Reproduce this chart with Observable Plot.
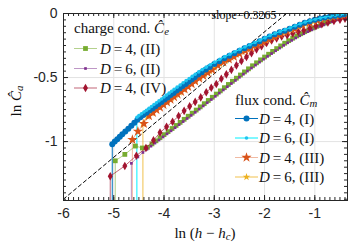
<!DOCTYPE html>
<html><head><meta charset="utf-8">
<script src="https://cdn.jsdelivr.net/npm/d3@7"></script>
<script src="https://cdn.jsdelivr.net/npm/@observablehq/plot@0.6"></script>
<style>
body{margin:0;background:#fff;}
#chart{position:relative;width:354px;height:247px;}
</style></head><body><div id="chart"></div>
<script>
// ---- axis / tick values ----
const xTicks = [-6, -5, -4, -3, -2, -1];
const yTicks = [-1, -0.5, 0];
const xDomain = [-6, -0.35];
const yDomain = [-1.46, 0];
const fitSlope = 0.3265;
const fitIntercept = 0.51;
const fitX = [-6, -1.5];

// ---- charge cond. ----
const xD4II = [-4.97,-4.78,-4.57,-4.43,-4.33,-4.24,-4.16,-4.08,-4.00,-3.92,-3.84,-3.76,-3.68,-3.60,-3.52,-3.44,-3.36,-3.28,-3.20,-3.12,-3.04,-2.96,-2.88,-2.80,-2.72,-2.64,-2.56,-2.48,-2.40,-2.32,-2.24,-2.16,-2.08,-2.00,-1.92,-1.84,-1.76,-1.68,-1.60,-1.52,-1.44,-1.36,-1.28,-1.20,-1.12,-1.04,-0.96,-0.88,-0.80,-0.72,-0.64,-0.56,-0.48,-0.40];
const yD4II = [-1.150,-1.100,-1.035,-1.050,-1.045,-1.018,-0.994,-0.970,-0.946,-0.922,-0.898,-0.874,-0.850,-0.826,-0.802,-0.778,-0.754,-0.729,-0.704,-0.679,-0.654,-0.629,-0.604,-0.579,-0.554,-0.529,-0.505,-0.480,-0.456,-0.432,-0.408,-0.385,-0.362,-0.340,-0.318,-0.296,-0.274,-0.253,-0.232,-0.212,-0.193,-0.175,-0.158,-0.142,-0.127,-0.113,-0.100,-0.087,-0.075,-0.063,-0.051,-0.039,-0.026,-0.012];

const xD6II = [-4.65,-4.52,-4.42,-4.34,-4.26,-4.18,-4.10,-4.02,-3.94,-3.86,-3.78,-3.70,-3.62,-3.54,-3.46,-3.38,-3.30,-3.22,-3.14,-3.06,-2.98,-2.90,-2.82,-2.74,-2.66,-2.58,-2.50,-2.42,-2.34,-2.26,-2.18,-2.10,-2.02,-1.94,-1.86,-1.78,-1.70,-1.62,-1.54,-1.46,-1.38,-1.30,-1.22,-1.14,-1.06,-0.98,-0.90,-0.82,-0.74,-0.66,-0.58,-0.50,-0.42];
const yD6II = [-1.170,-1.120,-1.085,-1.060,-1.036,-1.012,-0.988,-0.964,-0.940,-0.916,-0.892,-0.868,-0.844,-0.820,-0.796,-0.772,-0.747,-0.722,-0.697,-0.672,-0.647,-0.622,-0.597,-0.572,-0.547,-0.523,-0.498,-0.474,-0.450,-0.426,-0.403,-0.380,-0.357,-0.335,-0.313,-0.291,-0.270,-0.249,-0.229,-0.210,-0.191,-0.174,-0.158,-0.142,-0.128,-0.114,-0.101,-0.089,-0.077,-0.065,-0.053,-0.041,-0.028];

const xD4IV = [-5.07,-4.78,-4.55,-4.36,-4.21,-4.08,-3.95,-3.83,-3.71,-3.60,-3.49,-3.38,-3.27,-3.16,-3.06,-2.96,-2.86,-2.76,-2.66,-2.56,-2.46,-2.36,-2.26,-2.16,-2.06,-1.96,-1.86,-1.76,-1.66,-1.55,-1.44,-1.33,-1.22,-1.10,-0.98,-0.86,-0.74,-0.62,-0.50,-0.40];
const yD4IV = [-1.27,-1.19,-1.11,-1.05,-0.99,-0.93,-0.885,-0.845,-0.80,-0.76,-0.725,-0.69,-0.655,-0.615,-0.58,-0.55,-0.51,-0.475,-0.44,-0.405,-0.37,-0.34,-0.31,-0.28,-0.255,-0.23,-0.21,-0.195,-0.18,-0.17,-0.155,-0.143,-0.13,-0.115,-0.098,-0.083,-0.07,-0.058,-0.048,-0.04];

// ---- flux cond. ----
const xD4I = [-5.03,-4.98,-4.93,-4.88,-4.83,-4.77,-4.71,-4.65,-4.59,-4.53,-4.47,-4.41,-4.35,-4.29,-4.23,-4.17,-4.11,-4.05,-3.99,-3.93,-3.87,-3.81,-3.75,-3.69,-3.63,-3.57,-3.51,-3.45,-3.39,-3.32,-3.25,-3.17,-3.09,-3.00,-2.90,-2.80,-2.70,-2.60,-2.50,-2.40,-2.30,-2.20,-2.10,-2.00,-1.90,-1.80,-1.70,-1.60,-1.50,-1.40,-1.30,-1.20,-1.10,-1.00,-0.90,-0.80,-0.70,-0.60,-0.50,-0.42];
const yD4I = [-1.020,-1.000,-0.981,-0.962,-0.943,-0.921,-0.899,-0.876,-0.853,-0.830,-0.810,-0.792,-0.775,-0.758,-0.741,-0.724,-0.707,-0.690,-0.672,-0.655,-0.637,-0.620,-0.602,-0.585,-0.567,-0.550,-0.532,-0.515,-0.497,-0.477,-0.458,-0.438,-0.418,-0.395,-0.372,-0.350,-0.330,-0.311,-0.290,-0.272,-0.254,-0.236,-0.217,-0.198,-0.180,-0.162,-0.147,-0.134,-0.119,-0.104,-0.088,-0.072,-0.060,-0.049,-0.040,-0.031,-0.024,-0.017,-0.011,-0.006];

const xD6I = [-4.54,-4.50,-4.45,-4.40,-4.35,-4.30,-4.25,-4.20,-4.15,-4.10,-4.05,-4.00,-3.95,-3.90,-3.85,-3.80,-3.74,-3.68,-3.62,-3.56,-3.50,-3.44,-3.38,-3.31,-3.24,-3.16,-3.08,-2.99,-2.89,-2.79,-2.69,-2.59,-2.49,-2.39,-2.29,-2.19,-2.09,-1.99,-1.89,-1.79,-1.69,-1.59,-1.49,-1.39,-1.29,-1.19,-1.09,-0.99,-0.89,-0.79,-0.69,-0.59,-0.49,-0.40];
const yD6I = [-0.810,-0.797,-0.783,-0.769,-0.755,-0.741,-0.726,-0.711,-0.697,-0.682,-0.667,-0.652,-0.637,-0.622,-0.607,-0.592,-0.575,-0.558,-0.541,-0.524,-0.507,-0.491,-0.474,-0.456,-0.438,-0.419,-0.400,-0.380,-0.358,-0.337,-0.318,-0.299,-0.280,-0.262,-0.244,-0.226,-0.208,-0.190,-0.172,-0.155,-0.140,-0.126,-0.111,-0.096,-0.081,-0.067,-0.055,-0.045,-0.036,-0.028,-0.021,-0.014,-0.009,-0.004];

const xD4III = [-4.63,-4.52,-4.40,-4.30,-4.22,-4.15,-4.08,-4.01,-3.94,-3.87,-3.80,-3.73,-3.66,-3.59,-3.52,-3.45,-3.38,-3.30,-3.22,-3.13,-3.04,-2.93,-2.82,-2.71,-2.61,-2.50,-2.38,-2.27,-2.15,-2.03,-1.92,-1.80,-1.69,-1.55,-1.40,-1.25,-1.10,-0.95,-0.80,-0.65,-0.50,-0.40];
const yD4III = [-0.985,-0.920,-0.860,-0.800,-0.775,-0.752,-0.733,-0.713,-0.693,-0.672,-0.652,-0.631,-0.611,-0.591,-0.571,-0.550,-0.529,-0.506,-0.485,-0.463,-0.440,-0.405,-0.380,-0.357,-0.337,-0.314,-0.291,-0.270,-0.247,-0.224,-0.203,-0.181,-0.162,-0.141,-0.120,-0.094,-0.072,-0.054,-0.039,-0.027,-0.017,-0.010];

const xD6III = [-4.42,-4.33,-4.25,-4.17,-4.09,-4.01,-3.93,-3.85,-3.77,-3.69,-3.61,-3.53,-3.45,-3.37,-3.28,-3.19,-3.09,-2.99,-2.88,-2.77,-2.66,-2.55,-2.44,-2.33,-2.21,-2.09,-1.97,-1.85,-1.73,-1.60,-1.46,-1.32,-1.18,-1.03,-0.88,-0.73,-0.58,-0.45];
const yD6III = [-0.860,-0.805,-0.776,-0.750,-0.727,-0.705,-0.683,-0.661,-0.638,-0.616,-0.593,-0.571,-0.548,-0.525,-0.500,-0.475,-0.450,-0.424,-0.396,-0.369,-0.345,-0.322,-0.300,-0.278,-0.256,-0.233,-0.211,-0.190,-0.170,-0.150,-0.128,-0.106,-0.084,-0.064,-0.047,-0.033,-0.021,-0.012];

// ---- series list (data) ----
const series = [
  {key: "D4II",  xs: xD4II,  ys: yD4II,  D: "4", tag: "(II)"},
  {key: "D6II",  xs: xD6II,  ys: yD6II,  D: "6", tag: "(II)"},
  {key: "D4IV",  xs: xD4IV,  ys: yD4IV,  D: "4", tag: "(IV)"},
  {key: "D6III", xs: xD6III, ys: yD6III, D: "6", tag: "(III)"},
  {key: "D4III", xs: xD4III, ys: yD4III, D: "4", tag: "(III)"},
  {key: "D4I",   xs: xD4I,   ys: yD4I,   D: "4", tag: "(I)"},
  {key: "D6I",   xs: xD6I,   ys: yD6I,   D: "6", tag: "(I)"}
];
const chargeKeys = ["D4II", "D6II", "D4IV"];
const fluxKeys = ["D4I", "D6I", "D4III", "D6III"];

// ---- styles ----
const styles = {
  D4II:  {line: "#77AC30", lo: 0.55, fill: "#77AC30", symbol: "square",  r: 2.7},
  D6II:  {line: "#7E2F8E", lo: 0.5,  fill: "#7E2F8E", symbol: "square",  r: 1.5},
  D4IV:  {line: "#A2142F", lo: 0.65, fill: "#A2142F", symbol: "diamond", r: 2.6},
  D4I:   {line: "#0072BD", lo: 1,    fill: "#0072BD", symbol: "circle",  r: 3},
  D6I:   {line: "#00F0FF", lo: 1,    fill: "#20C4F0", symbol: "circle",  r: 1.8},
  D4III: {line: "#D95319", lo: 0.4,  fill: "#D95319", symbol: "star",    r: 3.2},
  D6III: {line: "#EDB120", lo: 0.8,  fill: "#EDB120", symbol: "star",    r: 2.4}
};

const W = 354, H = 247, mL = 63, mR = 7, mT = 13, mB = 47;
const fw = W - mL - mR, fh = H - mT - mB;
const minorX = d3.range(-60, -3).map(i => i / 10);
const minorY = d3.range(0, 30).map(i => -i * 0.05);
const tickColor = "#262626";

const marks = [
  Plot.gridX(xTicks, {stroke: "#e3e3e3", strokeOpacity: 1}),
  Plot.gridY(yTicks, {stroke: "#e3e3e3", strokeOpacity: 1})
];
for (const s of series) {
  const st = styles[s.key];
  const first = [{x: s.xs[0], y: s.ys[0]}];
  marks.push(Plot.ruleX(first, {x: "x", y1: "y", y2: yDomain[0], stroke: st.line, strokeOpacity: st.lo, strokeWidth: 1}));
}
marks.push(Plot.line(fitX.map(x => ({x, y: fitSlope * x + fitIntercept})),
  {x: "x", y: "y", stroke: "#000", strokeWidth: 1, strokeDasharray: "3.5,3", clip: true}));
for (const s of series) {
  const st = styles[s.key];
  const rows = s.xs.map((x, i) => ({x, y: s.ys[i]}));
  marks.push(Plot.line(rows, {x: "x", y: "y", stroke: st.line, strokeOpacity: st.lo, strokeWidth: 1, clip: true}));
  marks.push(Plot.dot(rows, {x: "x", y: "y", symbol: st.symbol, fill: st.fill, r: st.r, clip: true}));
}
marks.push(
  Plot.frame({stroke: tickColor, strokeWidth: 1}),
  Plot.tickX(minorX, {x: d => d, insetTop: fh - 3, stroke: tickColor}),
  Plot.tickX(minorX, {x: d => d, insetBottom: fh - 3, stroke: tickColor}),
  Plot.tickX(xTicks, {x: d => d, insetTop: fh - 5, stroke: tickColor}),
  Plot.tickX(xTicks, {x: d => d, insetBottom: fh - 5, stroke: tickColor}),
  Plot.tickY(minorY, {y: d => d, insetRight: fw - 3, stroke: tickColor}),
  Plot.tickY(minorY, {y: d => d, insetLeft: fw - 3, stroke: tickColor}),
  Plot.tickY(yTicks, {y: d => d, insetRight: fw - 5, stroke: tickColor}),
  Plot.tickY(yTicks, {y: d => d, insetLeft: fw - 5, stroke: tickColor}),
  Plot.axisX(xTicks, {anchor: "bottom", tickSize: 0, tickPadding: 8, tickFormat: d => String(d), fontSize: 14, label: null}),
  Plot.axisY(yTicks, {anchor: "left", tickSize: 0, tickPadding: 6, tickFormat: d => String(d), fontSize: 14, label: null})
);

const plot = Plot.plot({
  width: W, height: H,
  marginLeft: mL, marginRight: mR, marginTop: mT, marginBottom: mB,
  x: {domain: xDomain},
  y: {domain: yDomain},
  style: {fontFamily: "'Liberation Sans', Arial, sans-serif", fontSize: "14px", color: "#262626", background: "#fff"},
  marks
});
document.getElementById("chart").appendChild(plot);

// ---- annotations and legends (drawn into the same SVG) ----
const svg = d3.select(plot);
const serif = "'Liberation Serif', 'Times New Roman', serif";
function rich(g, x, y, parts, size, anchor = "start", rotate = null) {
  const t = g.append("text").attr("x", x).attr("y", y)
    .attr("font-family", serif).attr("font-size", size).attr("fill", "#111")
    .attr("text-anchor", anchor);
  if (rotate !== null) t.attr("transform", `rotate(${rotate},${x},${y})`);
  for (const p of parts) {
    const ts = t.append("tspan").text(p.t);
    if (p.i) ts.attr("font-style", "italic");
    if (p.sub) ts.attr("font-size", size * 0.72).attr("baseline-shift", "-22%");
  }
  return t;
}
const ann = svg.append("g");

// axis labels
rich(ann, 21, 101, [{t: "ln "}, {t: "\u0108", i: true}, {t: "a", i: true, sub: true}], 15, "middle", -90);
rich(ann, (mL + W - mR) / 2, 238, [{t: "ln ("}, {t: "h", i: true}, {t: " \u2212 "}, {t: "h", i: true}, {t: "c", i: true, sub: true}, {t: ")"}], 15, "middle");
// slope label
rich(ann, 244, 19, [{t: "slope=" + fitSlope}], 12, "middle");

function legend(keys, x0, yTitle, titleText, sub, yRows, textX) {
  rich(ann, x0, yTitle, [{t: titleText + " "}, {t: "\u0108", i: true}, {t: sub, i: true, sub: true}], 15);
  keys.forEach((k, i) => {
    const s = series.find(d => d.key === k);
    const st = styles[k];
    const y = yRows[i];
    ann.append("line").attr("x1", x0).attr("x2", x0 + 23).attr("y1", y).attr("y2", y)
      .attr("stroke", st.line).attr("stroke-opacity", st.lo).attr("stroke-width", 1);
    const sym = {circle: d3.symbolCircle, square: d3.symbolSquare, diamond: d3.symbolDiamond, star: d3.symbolStar}[st.symbol];
    ann.append("path").attr("d", d3.symbol(sym, Math.PI * st.r * st.r)())
      .attr("transform", `translate(${x0 + 11.5},${y})`).attr("fill", st.fill);
    rich(ann, textX, y + 5, [{t: "D", i: true}, {t: "\u2009=\u2009" + s.D + ", " + s.tag}], 15);
  });
}
legend(chargeKeys, 74, 33, "charge cond.", "e", [48.5, 68.5, 88], 100);
legend(fluxKeys, 235, 105, "flux cond.", "m", [118.5, 138, 157.5, 177], 259);
</script></body></html>
